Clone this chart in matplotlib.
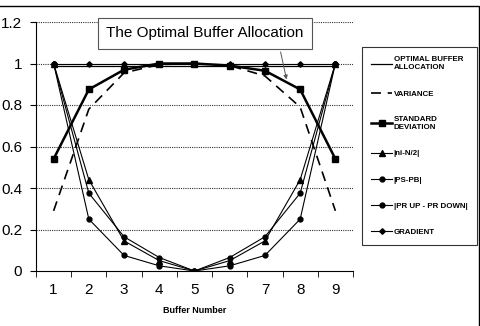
import numpy as np
from matplotlib import pyplot as plt
from matplotlib.patches import Rectangle

plt.rcParams['font.family'] = ['Liberation Sans', 'DejaVu Sans']

buffers = [1, 2, 3, 4, 5, 6, 7, 8, 9]
optimal = [0.99, 0.99, 0.99, 0.99, 0.99, 0.99, 0.99, 0.99, 0.99]
variance = [0.29, 0.78, 0.955, 0.995, 1.0, 0.99, 0.94, 0.79, 0.29]
std_dev = [0.54, 0.875, 0.97, 1.0, 1.0, 0.99, 0.965, 0.875, 0.54]
ni_n2 = [1.0, 0.44, 0.145, 0.05, 0.0, 0.05, 0.145, 0.44, 1.0]
ps_pb = [1.0, 0.375, 0.165, 0.065, 0.0, 0.065, 0.165, 0.375, 1.0]
pr_updown = [1.0, 0.25, 0.075, 0.025, 0.0, 0.025, 0.075, 0.25, 1.0]
gradient = [1.0, 1.0, 1.0, 1.0, 1.0, 1.0, 1.0, 1.0, 1.0]

fig = plt.figure(figsize=(4.81, 3.26), dpi=100)
ax = fig.add_axes([36 / 481, 55 / 326, 317 / 481, 249 / 326])

# lignes de grille pointillées
for g in np.arange(0.2, 1.21, 0.2):
    ax.axhline(g, color='#333333', lw=0.8, ls=(0, (1, 1)), zorder=0)

ax.plot(buffers, optimal, color='black', lw=0.9, label='OPTIMAL BUFFER\nALLOCATION')
ax.plot(buffers, variance, color='black', lw=1.2, ls=(0, (6, 4)), label='VARIANCE')
ax.plot(buffers, std_dev, color='black', lw=1.8, marker='s', ms=4.5, label='STANDARD\nDEVIATION')
ax.plot(buffers, ni_n2, color='black', lw=0.8, marker='^', ms=4, label='|ni-N/2|')
ax.plot(buffers, ps_pb, color='black', lw=0.8, marker='o', ms=3.5, label='|PS-PB|')
ax.plot(buffers, pr_updown, color='black', lw=0.8, marker='o', ms=3.5, label='|PR UP - PR DOWN|')
ax.plot(buffers, gradient, color='black', lw=0.8, marker='D', ms=2.8, label='GRADIENT')

ax.set_xlim(0.5, 9.5)
ax.set_ylim(0, 1.2)
ax.set_yticks(np.arange(0, 1.21, 0.2))
ax.set_yticklabels(['0', '0.2', '0.4', '0.6', '0.8', '1', '1.2'], fontsize=11)
ax.set_xticks(buffers)
ax.set_xticklabels([str(b) for b in buffers], fontsize=11)
ax.set_xticks(np.arange(0.5, 9.6, 1), minor=True)
ax.tick_params(axis='x', which='major', length=0, pad=9)
ax.tick_params(axis='x', which='minor', length=4, direction='out')
ax.tick_params(axis='y', length=4, direction='out', pad=6)
ax.spines['top'].set_visible(False)
ax.spines['right'].set_visible(False)
ax.set_xlabel('Buffer Number', fontsize=6.5, fontweight='bold', labelpad=6)

ax.annotate('The Optimal Buffer Allocation', xy=(7.63, 0.91), xytext=(5.3, 1.145),
            fontsize=11, ha='center', va='center',
            bbox=dict(boxstyle='square,pad=0.55', fc='white', ec='#555555', lw=0.8),
            arrowprops=dict(arrowstyle='-|>', color='#555555', lw=0.7,
                            mutation_scale=6, relpos=(0.87, 0.0)))

leg = ax.legend(loc='upper left', bbox_to_anchor=(358 / 481, 1 - 43 / 326),
                bbox_transform=fig.transFigure, frameon=True,
                fancybox=False, edgecolor='black', labelspacing=2.35,
                handlelength=2.6, handletextpad=0.2, borderpad=1.2,
                prop={'weight': 'bold', 'size': 5.7})
leg.get_frame().set_linewidth(0.8)

# bordure extérieure du graphique
fig.add_artist(Rectangle((-0.01, -0.01), 479 / 481 + 0.01, 1 - 6 / 326 + 0.01,
                         transform=fig.transFigure, fill=False, ec='black', lw=1.0))

fig.savefig('out.png', dpi=100)
